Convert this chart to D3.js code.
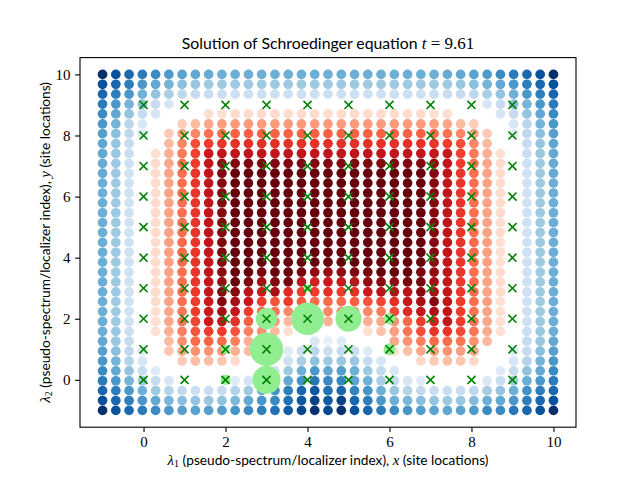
<!DOCTYPE html>
<html>
<head>
<meta charset="utf-8">
<script src="https://d3js.org/d3.v7.min.js"></script>
<style>
  html, body { margin: 0; padding: 0; background: #fff; }
  svg { display: block; }
</style>
</head>
<body>
<div id="chart"></div>
<script>
const tickValues = [0, 2, 4, 6, 8, 10];
const titleText = "Solution of Schroedinger equation";
const timeLabel = "9.61";
const xLabelText = " (pseudo-spectrum/localizer index), ";
const siteLabelText = " (site locations)";

// grid of the pseudo-spectrum, 35 points from -1 to 10 on each side
const gridPoints = [-1, -0.676, -0.353, -0.029, 0.294, 0.618, 0.941, 1.265, 1.588, 1.912, 2.235, 2.559, 2.882, 3.206, 3.529, 3.853, 4.176, 4.5, 4.824, 5.147, 5.471, 5.794, 6.118, 6.441, 6.765, 7.088, 7.412, 7.735, 8.059, 8.382, 8.706, 9.029, 9.353, 9.676, 10];

// colour level read per dot, top row first: >0 Reds, <0 Blues, 0 nothing visible
const levels = [
  [-8,-7,-6.3,-5.7,-5.2,-4.7,-4.4,-4.2,-4.1,-4,-4,-4,-4,-4,-4,-4,-4,-4,-4,-4,-4,-4,-4,-4,-4,-4,-4.1,-4.2,-4.4,-4.7,-5.2,-5.7,-6.3,-7,-8],
  [-7,-6.3,-5.6,-4.8,-4.2,-3.8,-3.4,-3.1,-3,-3,-3,-3,-3,-3,-3,-3,-3,-3,-3,-3,-3,-3,-3,-3,-3,-3,-3,-3.1,-3.4,-3.8,-4.2,-4.8,-5.6,-6.3,-7],
  [-6.3,-5.6,-4.8,-3.9,-3.2,-2.7,-2.2,-2,-1.9,-1.8,-1.7,-1.7,-1.7,-1.7,-1.7,-1.7,-1.7,-1.7,-1.7,-1.7,-1.7,-1.7,-1.7,-1.7,-1.7,-1.8,-1.9,-2,-2.2,-2.7,-3.2,-3.9,-4.8,-5.6,-6.3],
  [-5.7,-4.8,-3.8,-3.4,-2,-1.3,0,0,0,0,0,0,0,0,0,0,0,0,0,0,0,0,0,0,0,0,0,0,0,-1.3,-2,-3.4,-3.8,-4.8,-5.7],
  [-5.2,-4.2,-3.2,-2,-1.3,0,0,0,1,1,1.1,1.1,1.1,1.1,1.1,1.1,1.1,1.1,1.1,1.1,1.1,1.1,1.1,1.1,1.1,1,1,0,0,0,-1.3,-2,-3.2,-4.2,-5.2],
  [-4.8,-3.8,-2.3,-1.3,0,0,1.5,2,2.5,2.7,2.8,2.8,2.8,2.8,2.8,2.8,2.8,2.8,2.8,2.8,2.8,2.8,2.8,2.8,2.8,2.7,2.5,2,1.5,0,0,-1.3,-2.3,-3.8,-4.8],
  [-4.5,-3.4,-2.2,-1,0,1.6,2.7,3.3,3.8,4,4.2,4.2,4.2,4.2,4.2,4.2,4.2,4.2,4.2,4.2,4.2,4.2,4.2,4.2,4.2,4,3.8,3.3,2.7,1.6,0,-1,-2.2,-3.4,-4.5],
  [-4.3,-3.2,-2,0,0,2,3.3,4.6,5,5.2,5.3,5.3,5.3,5.3,5.3,5.3,5.3,5.3,5.3,5.3,5.3,5.3,5.3,5.3,5.3,5.2,5,4.6,3.3,2,0,0,-2,-3.2,-4.3],
  [-4.2,-3.1,-1.8,0,1,2.3,3.6,4.9,6,6.2,6.3,6.3,6.3,6.3,6.3,6.3,6.3,6.3,6.3,6.3,6.3,6.3,6.3,6.3,6.3,6.2,6,4.9,3.6,2.3,1,0,-1.8,-3.1,-4.2],
  [-4.1,-3,-1.7,0,1.1,2.5,3.8,5,6.2,7.3,7.6,7.6,7.6,7.6,7.6,7.6,7.6,7.6,7.6,7.6,7.6,7.6,7.6,7.6,7.6,7.3,6.2,5,3.8,2.5,1.1,0,-1.7,-3,-4.1],
  [-4.1,-3,-1.6,0,1.1,2.6,3.9,5.2,6.3,7.5,8,8,8,8,8,8,8,8,8,8,8,8,8,8,8,7.5,6.3,5.2,3.9,2.6,1.1,0,-1.6,-3,-4.1],
  [-4,-3,-1.6,0,1.1,2.6,3.9,5.2,6.3,7.5,8,8,8,8,8,8,8,8,8,8,8,8,8,8,8,7.5,6.3,5.2,3.9,2.6,1.1,0,-1.6,-3,-4],
  [-4,-3,-1.6,0,1.1,2.6,3.9,5.2,6.3,7.5,8,8,8,8,8,8,8,8,8,8,8,8,8,8,8,7.5,6.3,5.2,3.9,2.6,1.1,0,-1.6,-3,-4],
  [-4,-3,-1.6,0,1.1,2.6,3.9,5.2,6.3,7.5,8,8,8,8,8,8,8,8,8,8,8,8,8,8,8,7.5,6.3,5.2,3.9,2.6,1.1,0,-1.6,-3,-4],
  [-4,-3,-1.6,0,1.1,2.6,3.9,5.2,6.3,7.5,8,8,8,8,8,8,8,8,8,8,8,8,8,8,8,7.5,6.3,5.2,3.9,2.6,1.1,0,-1.6,-3,-4],
  [-4,-3,-1.6,0,1.1,2.6,3.9,5.2,6.3,7.5,8,8,8,8,8,8,8,8,8,8,8,8,8,8,8,7.5,6.3,5.2,3.9,2.6,1.1,0,-1.6,-3,-4],
  [-4,-3,-1.6,0,1.1,2.6,3.9,5.2,6.3,7.5,8,8,8,8,8,8,8,8,8,8,8,8,8,8,8,7.5,6.3,5.2,3.9,2.6,1.1,0,-1.6,-3,-4],
  [-4,-3,-1.6,0,1.1,2.7,4,5.2,6.3,7.6,8,8,8,8,8,8,8,8,8,8,8,8,8,8,8,7.5,6.3,5.2,4,2.7,1,0,-1.6,-3,-4],
  [-4,-3,-1.6,0,1.1,2.7,4,5.2,6.3,7.6,8,8,8,8,8,8,8,8,8,8,8,8,8,8,8,7.5,6.3,5.2,4,2.7,1,0,-1.6,-3,-4],
  [-4,-3,-1.6,0,1.1,2.7,4,5.2,6.3,7.5,8,8,8,8,8,8,8,8,8,8,8,8,8,8,8,7.4,6.3,5.2,4,2.7,1,0,-1.6,-3,-4],
  [-4,-3,-1.6,0,1.1,2.6,3.9,5.2,6.3,7.4,8,8,7.7,8,8,7.7,7.3,7.2,7.3,7.6,7.8,8,8,8,7.7,7.3,6.3,5.2,3.9,2.6,1.1,0,-1.6,-3,-4],
  [-4,-3,-1.6,0,1.1,2.7,3.9,5.2,6.2,7.2,8,7.6,7,7.6,7.8,6.3,5.8,6,6,6.5,7.3,7.5,7.3,7.7,7.8,7,6.2,5.1,4,2.6,1.1,0,-1.6,-3,-4],
  [-4,-3,-1.6,0,1.1,2.7,3.9,5.1,6.2,7.5,7.5,6.5,6,7,5.5,5,5,5.3,5,5.3,6,6.5,6.7,6.5,7.5,7,6.2,5.1,4,2.6,1.1,0,-1.6,-3,-4],
  [-4,-3,-1.6,0,1.1,2.6,3.8,5,6,7.5,7,6.1,5,4.5,5,4.3,4,4,4,4.2,4.5,4.8,5.4,6.1,7,7.5,6.2,5,3.9,2.7,1,0,-1.6,-3,-4],
  [-4,-3,-1.6,0,1,2.5,3.7,5,6,7,6.2,5,4,3.8,3.2,3.5,3.5,3.3,3.3,3.3,3.3,3.6,4.7,5.5,6.2,6.8,6.2,5,3.8,2.6,1,0,-1.6,-3,-4],
  [-4,-3,-1.6,0,1,2.5,3.7,4.8,6,6.2,5.3,4.2,3.5,3,2,2.3,2.3,2.3,2.3,2.3,2.3,2.5,3,4,5,5.8,6.2,5,3.8,2.5,1,0,-1.6,-3,-4],
  [-4,-3.1,-1.8,0,1,2.3,3.5,4.5,5,5,4.5,3.4,3,2,1,0,0,0,0,0,1,1.8,2.7,3.7,4.6,5.2,5.2,4.7,3.7,2.4,1,0,-1.8,-3.1,-4],
  [-4.2,-3.1,-2,0,0,2,3.1,4,4.2,4,3.5,2.3,1,0,0,0,-1.2,-0.7,-1,0,0,0,2.5,3,3.5,4,4,3.7,3,2.1,0,0,-2,-3.1,-4.2],
  [-4.5,-3.4,-2.2,-1,0,1.7,2.5,3,3,3,2.3,2,1,0,-1,-1.8,-2.3,-1.8,-2,-1.8,-1,0,1,1.9,2.5,2.8,3,2.7,2.5,0,0,-1,-2,-3.4,-4.5],
  [-4.8,-3.8,-2.5,-1.3,0,0,1.6,1.9,1.9,1.7,1.1,0,0,0,-1.7,-2.7,-3.3,-3,-3.1,-3.1,-2,-1.3,0,0,1.2,1.6,1.9,1.7,1.2,0,0,-1.3,-2.5,-3.8,-4.8],
  [-5.2,-4.2,-3.2,-1.9,-1,0,0,0,0,0,0,0,0,-1.5,-3,-4,-4.8,-4.2,-4.6,-4,-3,-2.1,-1.2,0,0,0,0,0,0,0,-1,-2,-3.3,-4.2,-5.2],
  [-5.7,-4.8,-3.8,-3,-2,-1.3,0,0,0,0,-1,-1.5,-2.5,-4,-4.2,-5,-5.8,-5.3,-5.4,-4.4,-3.9,-2.7,-2,-1.4,-1,0,0,0,0,-1.2,-1.8,-3,-4,-4.8,-5.7],
  [-6.3,-5.6,-4.8,-3.9,-3,-2.4,-2.1,-1.7,-1.9,-2,-2.5,-3,-3.9,-5,-5.6,-6.3,-6.8,-6,-6.3,-5.5,-4.9,-4,-3.1,-2.5,-2.1,-1.9,-1.9,-1.9,-2.2,-2.8,-3.2,-4,-5,-5.6,-6.3],
  [-7,-6.3,-5.6,-4.8,-4.2,-3.7,-3.4,-3.2,-3.1,-3.3,-3.6,-4.2,-4.8,-5.3,-6,-6.8,-7.5,-6.7,-7.5,-6.3,-5.6,-4.8,-4,-3.7,-3.4,-3.2,-3,-3.1,-3.5,-4,-4.2,-4.8,-5.6,-6.3,-7],
  [-8,-7,-6.2,-5.7,-5.2,-4.8,-4.5,-4.4,-4.5,-4.6,-4.9,-5.2,-5.6,-6,-6.6,-7.3,-8,-7.2,-8,-7,-6.3,-5.8,-5.2,-4.9,-4.6,-4.4,-4.3,-4.4,-4.7,-5.2,-5.2,-5.8,-6.3,-7,-8]
];

// lattice sites (the crosses)
const sites = [0, 1, 2, 3, 4, 5, 6, 7, 8, 9];

// probability on the sites with a visible green disc
const probX = [3, 4, 5, 6, 3, 6, 3, 2, 2, 4];
const probY = [2, 2, 2, 2, 1, 1, 0, 1, 0, 3];
const prob = [0.0716, 0.166, 0.106, 0.02, 0.174, 0.0225, 0.1225, 0.0116, 0.0156, 0.0086];

const width = 640, height = 480;
const margin = { top: 57.6, right: 64, bottom: 52.8, left: 80 };

const svg = d3.select("#chart").append("svg")
  .attr("width", width)
  .attr("height", height)
  .attr("viewBox", `0 0 ${width} ${height}`);

const x = d3.scaleLinear().domain([-1.55, 10.55]).range([margin.left, width - margin.right]);
const y = d3.scaleLinear().domain([-1.55, 10.55]).range([height - margin.bottom, margin.top]);
const radius = d3.scaleSqrt().domain([0, 1]).range([0, 40]);

const reds = d3.scaleLinear().domain(d3.range(9)).range(d3.schemeReds[9]);
const blues = d3.scaleLinear().domain(d3.range(9)).range(d3.schemeBlues[9]);

const cells = [];
levels.forEach((row, j) => {
  row.forEach((v, i) => {
    if (v !== 0) cells.push({ px: gridPoints[i], py: gridPoints[34 - j], v: v });
  });
});

svg.append("g").selectAll("circle")
  .data(cells)
  .enter()
  .append("circle")
  .attr("cx", d => x(d.px))
  .attr("cy", d => y(d.py))
  .attr("r", 4.85)
  .attr("fill", d => d.v > 0 ? reds(d.v) : blues(-d.v));

svg.append("g").selectAll("circle")
  .data(prob)
  .enter()
  .append("circle")
  .attr("cx", (d, i) => x(probX[i]))
  .attr("cy", (d, i) => y(probY[i]))
  .attr("r", d => radius(d))
  .attr("fill", "lightgreen");

const crosses = d3.cross(sites, sites);
svg.append("g").selectAll("path")
  .data(crosses)
  .enter()
  .append("path")
  .attr("transform", d => `translate(${x(d[0])},${y(d[1])})`)
  .attr("d", d3.symbol().type(d3.symbolTimes).size(44))
  .attr("fill", "none")
  .attr("stroke", "green")
  .attr("stroke-width", 1.6);

// axes
const xAxis = svg.append("g")
  .attr("transform", `translate(0,${height - margin.bottom})`)
  .call(d3.axisBottom(x).tickValues(tickValues).tickFormat(d3.format("d")).tickSize(4.9).tickPadding(4.5));
const yAxis = svg.append("g")
  .attr("transform", `translate(${margin.left},0)`)
  .call(d3.axisLeft(y).tickValues(tickValues).tickFormat(d3.format("d")).tickSize(4.9).tickPadding(4.5));

[xAxis, yAxis].forEach(a => {
  a.select(".domain").remove();
  a.selectAll("line").attr("stroke", "#000").attr("stroke-width", 1.1);
  a.selectAll("text")
    .attr("font-family", "'Liberation Serif', serif")
    .attr("font-size", "15px")
    .attr("fill", "#000");
});

svg.append("rect")
  .attr("x", margin.left)
  .attr("y", margin.top)
  .attr("width", width - margin.left - margin.right)
  .attr("height", height - margin.top - margin.bottom)
  .attr("fill", "none")
  .attr("stroke", "#000")
  .attr("stroke-width", 1.1);

const sans = "Lato, sans-serif";
const serif = "'Liberation Serif', serif";

function labelParts(text, parts) {
  parts.forEach(p => {
    text.append("tspan")
      .attr("font-family", p.f)
      .attr("font-style", p.i ? "italic" : "normal")
      .attr("font-size", p.s ? p.s + "px" : null)
      .attr("dy", p.dy || null)
      .attr("xml:space", "preserve")
      .text(p.t);
  });
}

// title
const title = svg.append("text")
  .attr("x", 328)
  .attr("y", 49)
  .attr("text-anchor", "middle")
  .attr("font-size", "15.8px")
  .attr("xml:space", "preserve")
  .attr("fill", "#000");
labelParts(title, [
  { t: titleText + " ", f: sans },
  { t: "t", f: serif, i: true, s: 17 },
  { t: " = " + timeLabel, f: serif, s: 17 }
]);

// x label
const xLabel = svg.append("text")
  .attr("x", 328)
  .attr("y", 465)
  .attr("text-anchor", "middle")
  .attr("font-size", "13.7px")
  .attr("xml:space", "preserve")
  .attr("fill", "#000");
labelParts(xLabel, [
  { t: "λ", f: serif, i: true, s: 15 },
  { t: "1", f: serif, s: 10, dy: 2 },
  { t: xLabelText, f: sans, dy: -2 },
  { t: "x", f: serif, i: true, s: 15 },
  { t: siteLabelText, f: sans }
]);

// y label
const yLabel = svg.append("text")
  .attr("transform", "translate(50,242.4) rotate(-90)")
  .attr("text-anchor", "middle")
  .attr("font-size", "13.7px")
  .attr("xml:space", "preserve")
  .attr("fill", "#000");
labelParts(yLabel, [
  { t: "λ", f: serif, i: true, s: 15 },
  { t: "2", f: serif, s: 10, dy: 2 },
  { t: xLabelText, f: sans, dy: -2 },
  { t: "y", f: serif, i: true, s: 15 },
  { t: siteLabelText, f: sans }
]);
</script>
</body>
</html>
